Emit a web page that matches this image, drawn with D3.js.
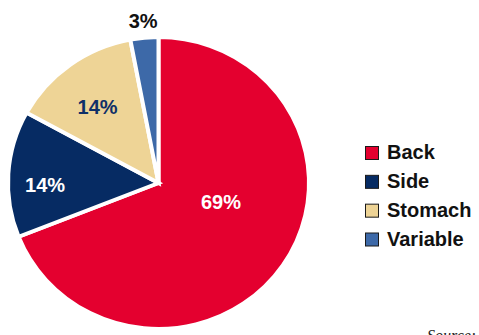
<!DOCTYPE html>
<html>
<head>
<meta charset="utf-8">
<script src="https://cdn.jsdelivr.net/npm/d3@7"></script>
<style>
  html, body { margin: 0; padding: 0; background: #fff; }
  svg { display: block; }
</style>
</head>
<body>
<svg id="chart" width="479" height="335"></svg>
<script>
// Sleeping positions, share of respondents (%)
const categories = ["Back", "Side", "Stomach", "Variable"];
const values = [69, 14, 14, 3];
const colors = ["#e4002f", "#062b63", "#eed496", "#3d69a8"];
const labelColors = ["#ffffff", "#ffffff", "#0f3068", "#111111"];

const svg = d3.select("#chart");
const cx = 158.5, cy = 183, rx = 150.5, ry = 146;

const pie = d3.pie().sort(null).value(d => d.value);
const data = categories.map((c, i) => ({ name: c, value: values[i], i }));
const arcs = pie(data);

const arc = d3.arc().innerRadius(0).outerRadius(rx);

// Wedges (slightly flattened vertically)
svg.append("g")
  .attr("transform", `translate(${cx},${cy}) scale(1,${ry / rx})`)
  .selectAll("path")
  .data(arcs)
  .join("path")
  .attr("d", arc)
  .attr("fill", d => colors[d.data.i])
  .attr("stroke", "#fff")
  .attr("stroke-width", 4)
  .attr("stroke-linejoin", "miter");

// Percentage labels: placed along each wedge's bisector (with a small
// angular nudge), inside the large wedges and outside the small one
const labelRadius = [0.434, 0.754, 0.645, 1.081];
const labelTurn = [-17.3, -4.4, -2.9, 0]; // degrees
function labelPos(d) {
  const a = (d.startAngle + d.endAngle) / 2 + labelTurn[d.data.i] * Math.PI / 180;
  const r = rx * labelRadius[d.data.i];
  return [cx + Math.sin(a) * r, cy - Math.cos(a) * r];
}
svg.append("g")
  .selectAll("text")
  .data(arcs)
  .join("text")
  .attr("x", d => labelPos(d)[0])
  .attr("y", d => labelPos(d)[1])
  .attr("text-anchor", "middle")
  .attr("dominant-baseline", "central")
  .attr("font-family", "Liberation Sans, Arial, sans-serif")
  .attr("font-weight", "bold")
  .attr("font-size", 20)
  .attr("fill", d => labelColors[d.data.i])
  .text(d => d.data.value + "%");

// Legend
const legendY = d3.scalePoint().domain(categories).range([159, 245.5]);
const legend = svg.append("g")
  .selectAll("g")
  .data(data)
  .join("g")
  .attr("transform", d => `translate(365,${legendY(d.name)})`);

legend.append("rect")
  .attr("x", 0.5)
  .attr("y", -12.5)
  .attr("width", 13)
  .attr("height", 13)
  .attr("fill", d => colors[d.i])
  .attr("stroke", "#1a1a1a")
  .attr("stroke-width", 1);

legend.append("text")
  .attr("x", 22)
  .attr("y", 0)
  .attr("font-family", "Liberation Sans, Arial, sans-serif")
  .attr("font-weight", "bold")
  .attr("font-size", 20)
  .attr("fill", "#111")
  .text(d => d.name);

// Source note, running off the bottom edge
svg.append("text")
  .attr("x", 427)
  .attr("y", 341)
  .attr("font-family", "Liberation Serif, Times New Roman, serif")
  .attr("font-style", "italic")
  .attr("font-size", 16)
  .attr("fill", "#222")
  .text("Source:");
</script>
</body>
</html>
